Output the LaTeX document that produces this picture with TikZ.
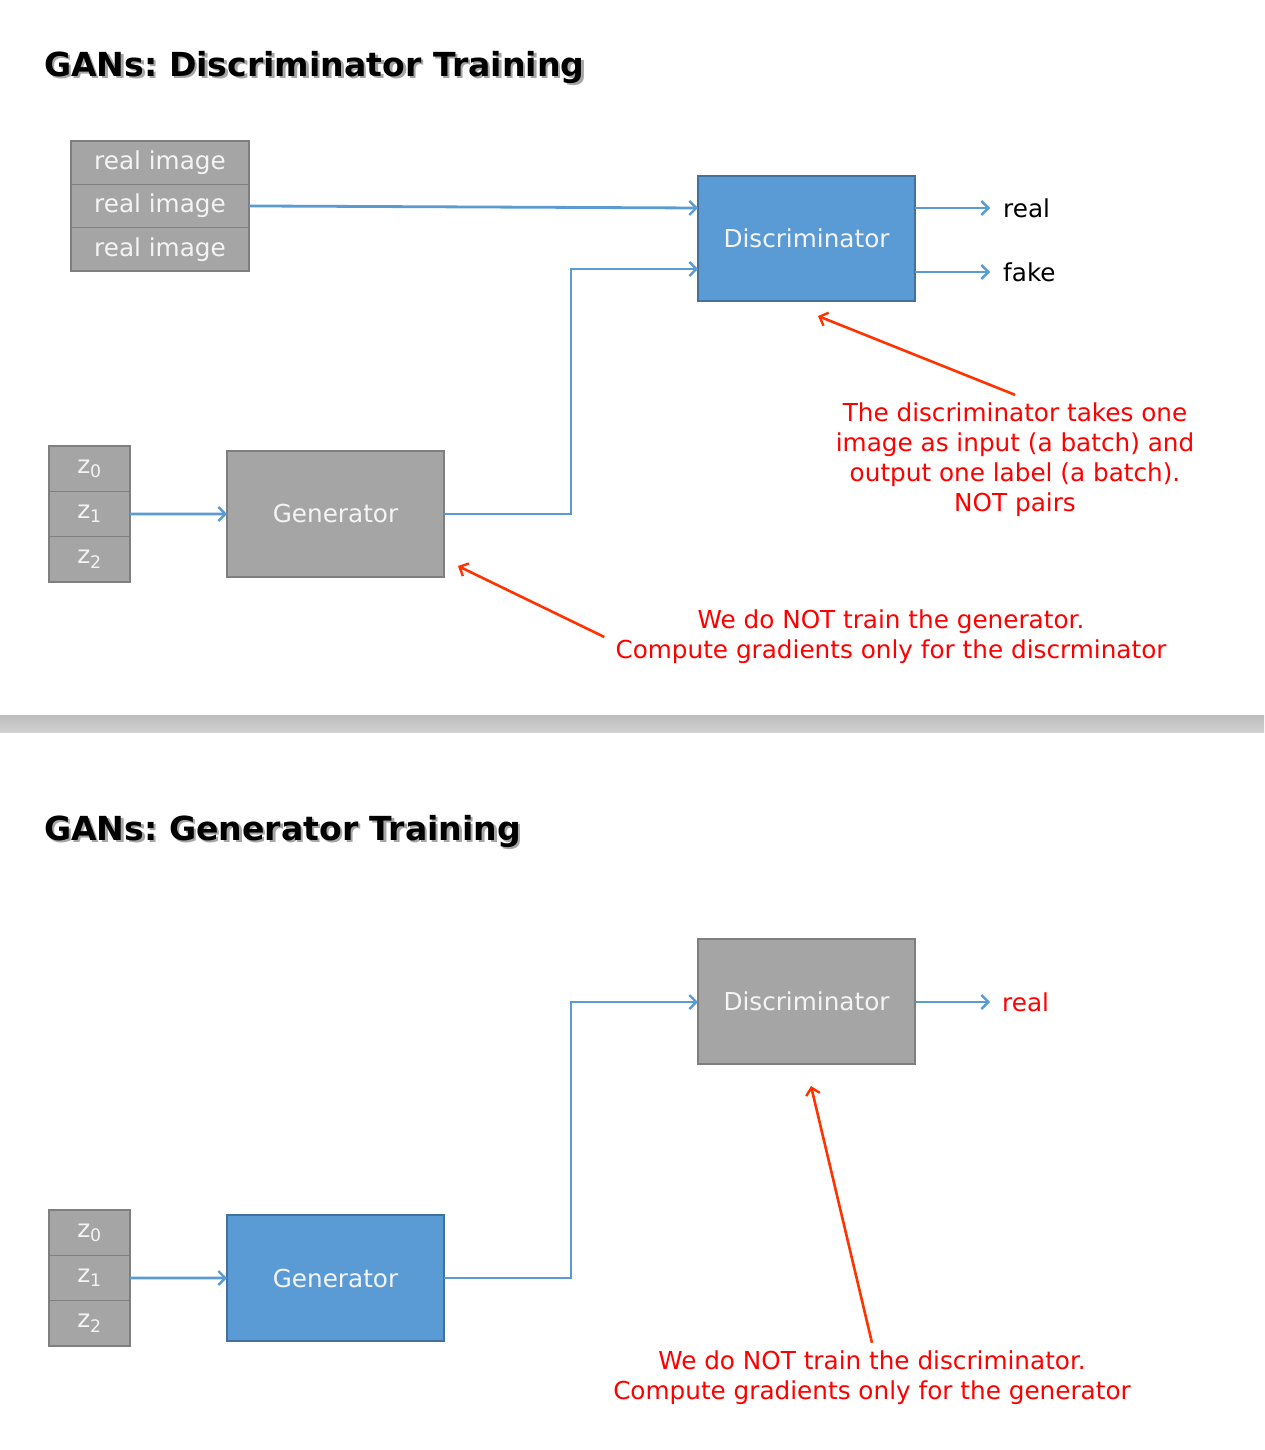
\documentclass[tikz,border=0pt]{standalone}
\usepackage{fontspec}
\setmainfont{DejaVu Sans}
\usetikzlibrary{arrows.meta,calc}
\definecolor{boxgray}{HTML}{A5A5A5}
\definecolor{boxgrayline}{HTML}{7F7F7F}
\definecolor{boxblue}{HTML}{5B9BD5}
\definecolor{boxblueline}{HTML}{41719C}
\definecolor{redline}{HTML}{FF3300}
\definecolor{redtext}{HTML}{FF0000}
\definecolor{boxtext}{HTML}{F4F4F4}
\definecolor{sepa}{HTML}{BDBDBD}
\definecolor{sepb}{HTML}{E8E8E8}
\definecolor{sepc}{HTML}{D0D0D0}
\frenchspacing
\begin{document}
\begin{tikzpicture}[x=1pt,y=-1pt,
  base/.style={font=\fontsize{24.7}{30}\selectfont},
  boxbase/.style={base,line width=1.3pt,text=boxtext,inner sep=0pt,outer sep=0pt,anchor=north west},
  graybox/.style={boxbase,draw=boxgrayline,fill=boxgray},
  bluebox/.style={boxbase,draw=boxblueline,fill=boxblue},
  conn/.style={draw=boxblue,line width=2.8pt,-{Straight Barb[length=7pt,width=14pt,line width=2.4pt]}},
  redarrow/.style={draw=redline,line width=2.6pt,-{Straight Barb[length=7pt,width=14pt,line width=2.4pt]}},
  note/.style={base,text=redtext,align=center,inner sep=0pt},
  lbl/.style={base,anchor=west,inner sep=0pt},
  titletext/.style={anchor=west,inner sep=0pt,font=\bfseries\fontsize{33.1}{40}\selectfont}
]
\useasboundingbox (0,0) rectangle (1264,1450);
\fill[white] (0,0) rectangle (1264,1450);

% ---------- Top: Discriminator training ----------
\node[titletext,text=black!35] at (46.5,69.5) {GANs: Discriminator Training};
\node[titletext] (title1) at (44,67) {GANs: Discriminator Training};

\node[graybox,minimum width=178pt,minimum height=43.3pt] (ri1) at (71,141) {real image};
\node[graybox,minimum width=178pt,minimum height=43.3pt] (ri2) at (ri1.south west) {real image};
\node[graybox,minimum width=178pt,minimum height=43.3pt] (ri3) at (ri2.south west) {real image};

\node[bluebox,minimum width=217pt,minimum height=125pt] (disc1) at (698,176) {Discriminator};

\node[graybox,minimum width=81pt,minimum height=45.3pt] (za0) at (49,446) {z\textsubscript{0}};
\node[graybox,minimum width=81pt,minimum height=45.3pt] (za1) at (za0.south west) {z\textsubscript{1}};
\node[graybox,minimum width=81pt,minimum height=45.3pt] (za2) at (za1.south west) {z\textsubscript{2}};

\node[graybox,minimum width=217pt,minimum height=126pt] (gen1) at (227,451) {Generator};

\coordinate (d1in1) at (698,208);
\coordinate (d1in2) at (698,269);
\coordinate (d1out1) at (915,208);
\coordinate (d1out2) at (915,272);

\node[lbl] (real1) at (1003,208) {real};
\node[lbl] (fake1) at (1003,272) {fake};

\draw[conn] (ri2.east) -- (d1in1);
\draw[conn] (za1.east) -- (gen1.west);
\draw[conn] (gen1.east) -- ++(127,0) |- (d1in2);
\draw[conn,shorten >=13pt] (d1out1) -- (real1.west);
\draw[conn,shorten >=13pt] (d1out2) -- (fake1.west);

\node[note] (note1) at (1015,460) {The discriminator takes one\\image as input (a batch) and\\output one label (a batch).\\NOT pairs};
\coordinate (tip1) at (818,316);
\draw[redarrow] ($(note1.north)+(0,-8)$) -- (tip1);

\node[note] (note2) at (891,637) {We do NOT train the generator.\\Compute gradients only for the discrminator};
\coordinate (tip2) at (458,566);
\draw[redarrow] ($(note2.west)+(-11,0)$) -- (tip2);

% ---------- Separator ----------
\shade[top color=sepa,middle color=sepb,bottom color=sepc] (0,715) rectangle (1264,732);

% ---------- Bottom: Generator training ----------
\node[titletext,text=black!35] at (46.5,833.5) {GANs: Generator Training};
\node[titletext] (title2) at (44,831) {GANs: Generator Training};

\node[graybox,minimum width=217pt,minimum height=125pt] (disc2) at (698,939) {Discriminator};

\node[graybox,minimum width=81pt,minimum height=45.3pt] (zb0) at (49,1210) {z\textsubscript{0}};
\node[graybox,minimum width=81pt,minimum height=45.3pt] (zb1) at (zb0.south west) {z\textsubscript{1}};
\node[graybox,minimum width=81pt,minimum height=45.3pt] (zb2) at (zb1.south west) {z\textsubscript{2}};

\node[bluebox,minimum width=217pt,minimum height=126pt] (gen2) at (227,1215) {Generator};

\coordinate (d2in) at (698,1002);
\coordinate (d2out) at (915,1002);
\node[lbl,text=redtext] (real2) at (1002,1002) {real};

\draw[conn] (zb1.east) -- (gen2.west);
\draw[conn] (gen2.east) -- ++(127,0) |- (d2in);
\draw[conn,shorten >=12pt] (d2out) -- (real2.west);

\node[note] (note3) at (872,1378) {We do NOT train the discriminator.\\Compute gradients only for the generator};
\coordinate (tip3) at (811,1086);
\draw[redarrow] ($(note3.north)+(0,-8)$) -- (tip3);
\end{tikzpicture}
\end{document}
